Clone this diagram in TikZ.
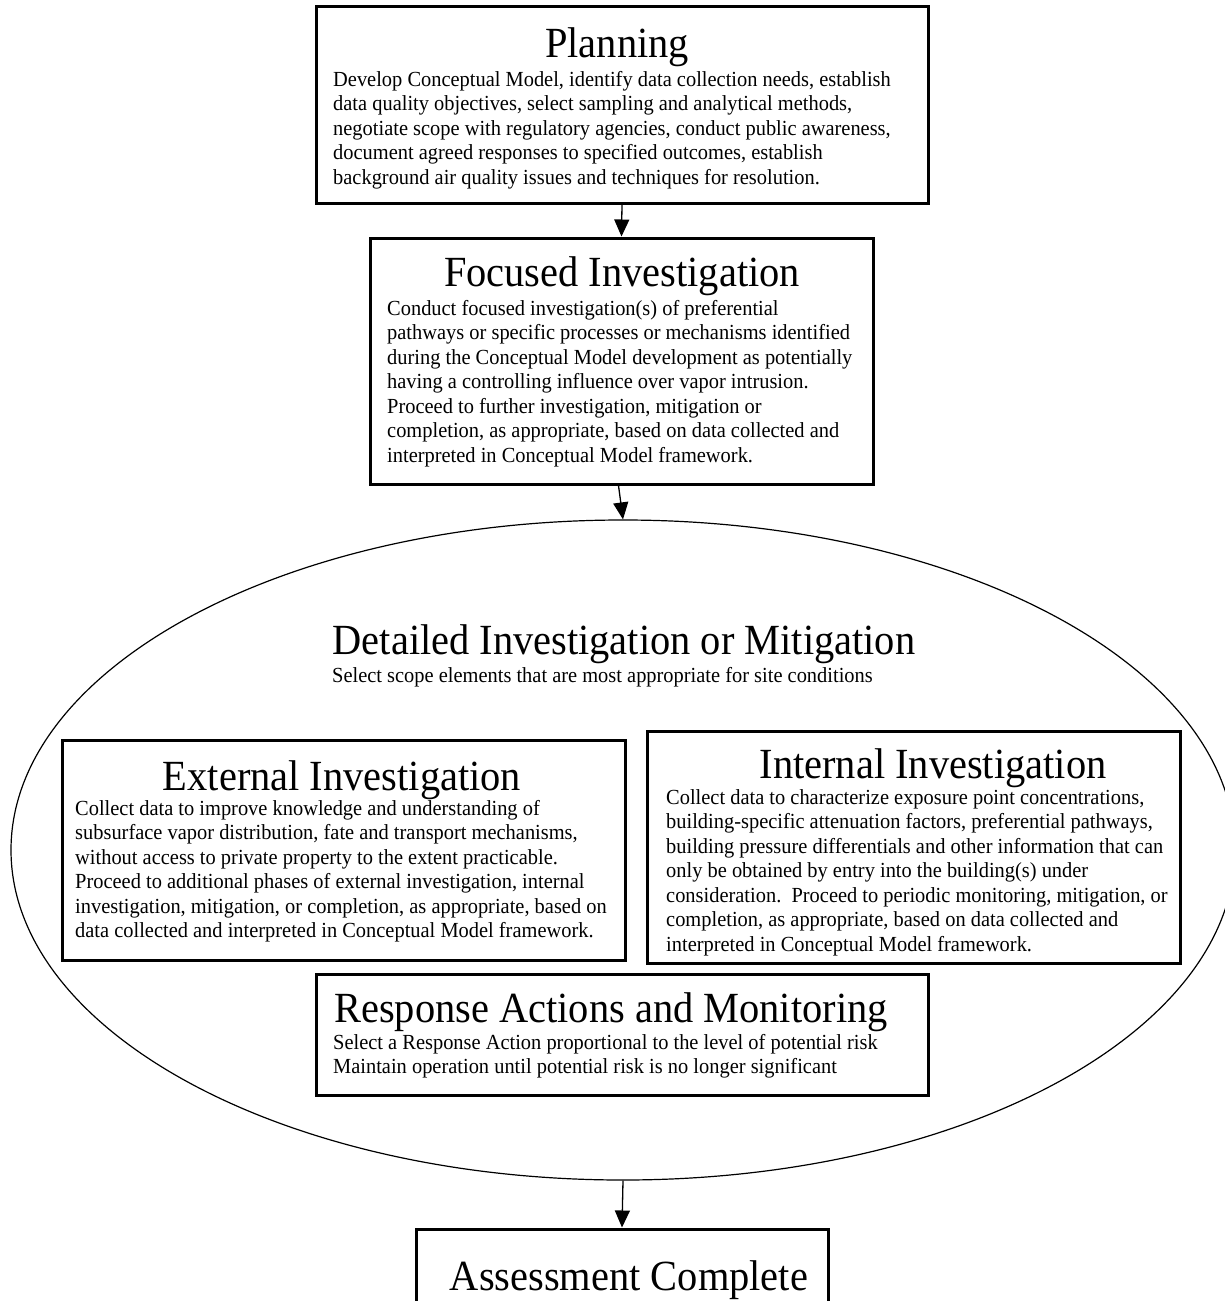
\documentclass[tikz,border=0pt]{standalone}
\usepackage{fontspec}
\setmainfont{Liberation Serif}
\newfontfamily\bodyfam{Liberation Serif}[FakeStretch=0.95]
\newfontfamily\titlefam{Liberation Serif}[FakeStretch=0.94]
\usetikzlibrary{arrows.meta,shapes.geometric}
\newcommand{\bodyfont}{\bodyfam\fontsize{21.5}{24.5}\selectfont}
\newcommand{\titlefont}{\titlefam\fontsize{43}{48}\selectfont}
\tikzset{
  box/.style={draw, line width=3pt, inner sep=0pt},
  bodytext/.style={anchor=north west, inner sep=0pt, align=left, font=\bodyfont},
  ttl/.style={anchor=base, inner sep=0pt, font=\titlefont},
  arr/.style={line width=1.3pt, -{Triangle[width=15pt,length=17pt]}}
}
\begin{document}
\begin{tikzpicture}[x=1pt,y=-1pt]
\path[use as bounding box, clip] (0,0) rectangle (1225,1301);
\fill[white] (0,0) rectangle (1225,1301);

% ellipse
\node[draw, ellipse, line width=1.2pt, minimum width=1224pt, minimum height=660pt, inner sep=0pt] (det) at (623,850) {};

% boxes
\node[box, minimum width=612pt, minimum height=197pt] (plan) at (622,104.5) {};
\node[box, minimum width=503pt, minimum height=246pt] (foc) at (621.5,361) {};
\node[box, minimum width=563pt, minimum height=220pt] (ext) at (343.5,850) {};
\node[box, minimum width=533pt, minimum height=232pt] (int) at (913.5,847) {};
\node[box, minimum width=612pt, minimum height=121pt] (resp) at (622,1034.5) {};
\node[box, minimum width=412pt, minimum height=120pt] (assess) at (622,1289) {};

% titles
\node[ttl] (planT) at (617,57) {Planning};
\node[ttl] (focT) at (622,286) {Focused Investigation};
\node[ttl] (detT) at (624,654) {Detailed Investigation or Mitigation};
\node[ttl] (extT) at (342,790) {External Investigation};
\node[ttl] (intT) at (933,778) {Internal Investigation};
\node[ttl] (respT) at (611,1022) {Response Actions and Monitoring};
\node[ttl] (assT) at (629,1290) {Assessment Complete};

% body texts
\node[bodytext] (planB) at (333,68.85) {\strut Develop Conceptual Model, identify data collection needs, establish\\
data quality objectives, select sampling and analytical methods,\\
negotiate scope with regulatory agencies, conduct public awareness,\\
document agreed responses to specified outcomes, establish\\
background air quality issues and techniques for resolution.};

\node[bodytext] (focB) at (387,297.85) {\strut Conduct focused investigation(s) of preferential\\
pathways or specific processes or mechanisms identified\\
during the Conceptual Model development as potentially\\
having a controlling influence over vapor intrusion.\\
Proceed to further investigation, mitigation or\\
completion, as appropriate, based on data collected and\\
interpreted in Conceptual Model framework.};

\node[anchor=base west, inner sep=0pt, font=\bodyfont] (detB) at (332,682) {Select scope elements that are most appropriate for site conditions};

\node[bodytext] (extB) at (75,797.85) {\strut Collect data to improve knowledge and understanding of\\
subsurface vapor distribution, fate and transport mechanisms,\\
without access to private property to the extent practicable.\\
Proceed to additional phases of external investigation, internal\\
investigation, mitigation, or completion, as appropriate, based on\\
data collected and interpreted in Conceptual Model framework.};

\node[bodytext] (intB) at (666,786.85) {\strut Collect data to characterize exposure point concentrations,\\
building-specific attenuation factors, preferential pathways,\\
building pressure differentials and other information that can\\
only be obtained by entry into the building(s) under\\
consideration.\ \ Proceed to periodic monitoring, mitigation, or\\
completion, as appropriate, based on data collected and\\
interpreted in Conceptual Model framework.};

\node[bodytext] (respB) at (333,1031.85) {\strut Select a Response Action proportional to the level of potential risk\\
Maintain operation until potential risk is no longer significant};

% arrows
\draw[arr] (plan.south) -- (foc.north);
\draw[arr] ([xshift=-3pt]foc.south) -- (det.north);
\draw[arr] (det.south) -- (assess.north);
\end{tikzpicture}
\end{document}
